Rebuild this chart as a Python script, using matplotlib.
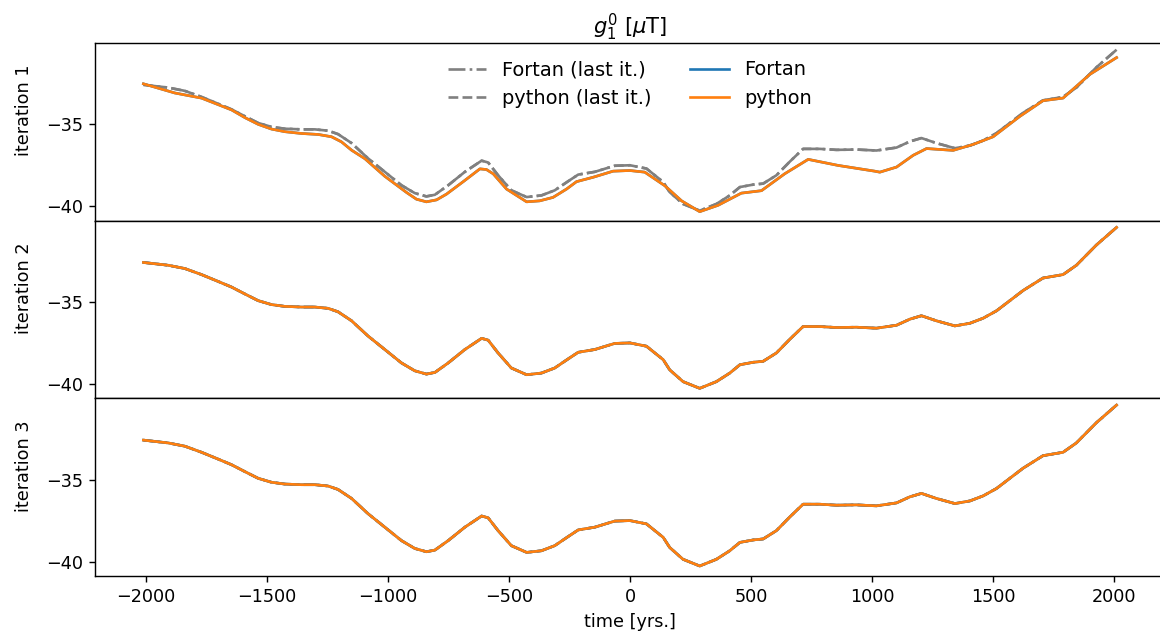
# Comparison of the g_1^0 dipole coefficient between the Fortran and python
# inversions, one panel per iteration

import matplotlib
matplotlib.use('Agg')
import matplotlib.pyplot as plt

# converged model (last iteration), also iterations 2 and 3
t_final = [-2010, -1908, -1839, -1770, -1701, -1646, -1591, -1536, -1481, -1426,
           -1357, -1302, -1247, -1206, -1150, -1082, -1013, -944, -889, -841,
           -806, -751, -682, -613, -586, -545, -490, -427, -366, -311,
           -256, -214, -145, -90, -63, 0, 68, 137, 164, 219,
           288, 357, 412, 454, 509, 550, 605, 660, 715, 784,
           853, 935, 1018, 1101, 1156, 1204, 1266, 1342, 1404, 1459,
           1514, 1569, 1624, 1706, 1789, 1844, 1927, 2010]
g_final = [-32.59, -32.76, -32.96, -33.33, -33.75, -34.09, -34.51, -34.92, -35.16, -35.27,
           -35.31, -35.31, -35.39, -35.60, -36.15, -37.08, -37.90, -38.72, -39.20, -39.40,
           -39.30, -38.72, -37.90, -37.22, -37.33, -38.11, -39.03, -39.44, -39.34, -39.03,
           -38.48, -38.07, -37.90, -37.65, -37.53, -37.50, -37.70, -38.52, -39.14, -39.86,
           -40.27, -39.86, -39.34, -38.83, -38.68, -38.62, -38.11, -37.28, -36.50, -36.50,
           -36.56, -36.54, -36.60, -36.42, -36.05, -35.84, -36.15, -36.46, -36.30, -35.99,
           -35.54, -34.92, -34.30, -33.54, -33.33, -32.76, -31.52, -30.45]

# first iteration
t_it1 = [-2010, -1880, -1770, -1646, -1591, -1536, -1481, -1426, -1357, -1288,
         -1233, -1192, -1150, -1095, -1013, -923, -882, -841, -799, -758,
         -689, -620, -593, -565, -510, -427, -373, -318, -262, -221,
         -152, -70, -1, 61, 144, 213, 288, 364, 460, 543,
         639, 736, 860, 1011, 1032, 1101, 1170, 1225, 1335, 1417,
         1500, 1610, 1706, 1789, 1899, 2010]
g_it1 = [-32.53, -33.09, -33.40, -34.12, -34.59, -35.00, -35.29, -35.45, -35.56, -35.62,
         -35.76, -36.07, -36.58, -37.10, -38.17, -39.16, -39.57, -39.73, -39.61, -39.26,
         -38.50, -37.72, -37.76, -38.02, -38.95, -39.73, -39.67, -39.46, -38.95, -38.50,
         -38.23, -37.86, -37.82, -37.92, -38.75, -39.67, -40.33, -39.94, -39.20, -39.05,
         -38.02, -37.14, -37.51, -37.86, -37.92, -37.61, -36.89, -36.48, -36.59, -36.23,
         -35.76, -34.52, -33.56, -33.40, -31.96, -30.93]

iterations = ['iteration 1', 'iteration 2', 'iteration 3']
t_iter = [t_it1, t_final, t_final]
g_iter = [g_it1, g_final, g_final]


def plot_data():
    dpi = 127
    fig = plt.figure(figsize=(1160 / dpi, 634 / dpi), dpi=dpi)
    axs = fig.subplots(3, 1, sharex=True,
                       gridspec_kw=dict(hspace=0, left=95 / 1160, right=1165 / 1160,
                                        bottom=1 - 576 / 634, top=1 - 43 / 634))
    for i, ax in enumerate(axs):
        ax.plot(t_final, g_final, color='grey', ls='-.', label='Fortan (last it.)')
        ax.plot(t_final, g_final, color='grey', ls='--', label='python (last it.)')
        ax.plot(t_iter[i], g_iter[i], color='C0', label='Fortan')
        ax.plot(t_iter[i], g_iter[i], color='C1', label='python')
        ax.set_ylabel(iterations[i])
        ax.yaxis.set_label_coords(-0.058, 0.62)
        ax.set_ylim(-40.88, -30.04)
        ax.set_yticks([-40, -35])
    axs[0].set_xlim(-2210, 2210)
    axs[0].set_title('$g_1^0$ [$\\mu$T]', pad=4)
    axs[0].legend(loc='upper center', ncol=2, frameon=False, fontsize=11)
    axs[-1].set_xlabel('time [yrs.]')
    fig.savefig('out.png', dpi=dpi)


if __name__ == '__main__':
    plot_data()
